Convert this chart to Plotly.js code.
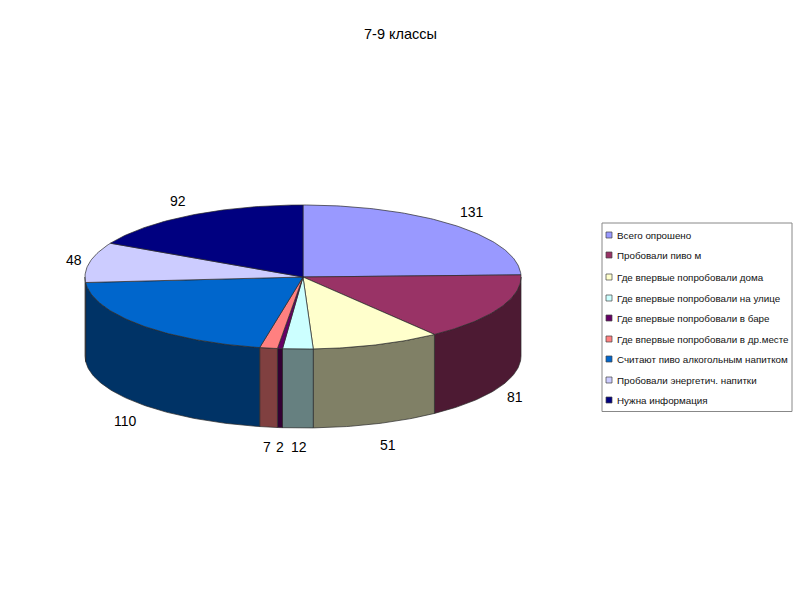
<!DOCTYPE html>
<html><head><meta charset="utf-8">
<script src="https://cdn.plot.ly/plotly-3.0.1.min.js"></script>
<style>html,body{margin:0;padding:0;background:#fff}</style></head>
<body><div id="chart" style="width:800px;height:600px"></div>
<script>
const titleText = "7-9 классы";
const categories = ["Всего опрошено","Пробовали пиво м","Где впервые попробовали дома","Где впервые попробовали на улице","Где впервые попробовали в баре","Где впервые попробовали в др.месте","Считают пиво алкогольным напитком","Пробовали энергетич. напитки","Нужна информация"];
const values = [131,81,51,12,2,7,110,48,92];
const topColors = ["#9999FF","#993366","#FFFFCC","#CCFFFF","#660066","#FF8080","#0066CC","#CCCCFF","#000080"];
const sideColors = ["#4D4D80","#4D1A33","#808066","#668080","#330033","#804040","#003366","#666680","#000040"];
const labelX = [472,515,388,299,280,267,125,74,178];
const labelY = [212,397,445,447,447,447,421,260,201];

// Pie geometry, in pixels of the 800x600 page
const CX=303, CY=277, RX=218, RY=72, DEPTH=79;
const total = values.reduce((a,b)=>a+b,0);
const ex = t => CX + RX*Math.sin(t*Math.PI/180);
const ey = (t,d) => CY - RY*Math.cos(t*Math.PI/180) + d;
function arc(a,b,d){const n=Math.max(2,Math.ceil(Math.abs(b-a)));const p=[];for(let i=0;i<=n;i++)p.push(a+(b-a)*i/n);return {x:p.map(ex),y:p.map(t=>ey(t,d))};}

const traces=[]; let cum=0; const tops=[];
values.forEach((v,i)=>{
  const a=cum/total*360; cum+=v; const b=cum/total*360;
  tops.push([a,b]);
  const s=Math.max(a,90), e=Math.min(b,270);
  if(e>s){
    const u=arc(s,e,0), l=arc(e,s,DEPTH);
    traces.push({type:"scatter",mode:"lines",x:[...u.x,...l.x,u.x[0]],y:[...u.y,...l.y,u.y[0]],fill:"toself",fillcolor:sideColors[i],line:{color:"#2a2a2a",width:0.7},hoverinfo:"skip",showlegend:false});
  }
});
tops.forEach(([a,b],i)=>{
  const u=arc(a,b,0);
  traces.push({type:"scatter",mode:"lines",name:categories[i],x:[CX,...u.x,CX],y:[CY,...u.y,CY],fill:"toself",fillcolor:topColors[i],line:{color:"#2a2a2a",width:0.7},hoverinfo:"name",showlegend:false});
});

const annos=[{x:400,y:34,text:titleText,font:{size:14.5,color:"#000"}}];
values.forEach((v,i)=>annos.push({x:labelX[i],y:labelY[i],text:String(v),font:{size:14,color:"#000"}}));
const LX=616, rowY=[235,255,277,298,318,339,359,380,400];
categories.forEach((c,i)=>annos.push({x:LX,y:rowY[i],text:c,xanchor:"left",font:{size:9.8,color:"#111"}}));
const annotations=annos.map(a=>Object.assign({xref:"x",yref:"y",showarrow:false,xanchor:"center",yanchor:"middle",borderpad:0},a,{font:Object.assign({family:"Liberation Sans, Arial, sans-serif"},a.font)}));

const shapes=[{type:"rect",xref:"x",yref:"y",x0:602,x1:792,y0:223,y1:411.5,line:{color:"#888",width:1},fillcolor:"#fff",layer:"below"}];
categories.forEach((c,i)=>shapes.push({type:"rect",xref:"x",yref:"y",x0:606,x1:612,y0:rowY[i]-3,y1:rowY[i]+3,fillcolor:topColors[i],line:{color:"#444",width:0.7}}));

Plotly.newPlot("chart",traces,{
  width:800,height:600,margin:{l:0,r:0,t:0,b:0},paper_bgcolor:"#fff",plot_bgcolor:"#fff",showlegend:false,
  xaxis:{range:[0,800],visible:false,fixedrange:true},
  yaxis:{range:[600,0],visible:false,fixedrange:true},
  annotations,shapes
},{displayModeBar:false,staticPlot:true});
</script></body></html>
